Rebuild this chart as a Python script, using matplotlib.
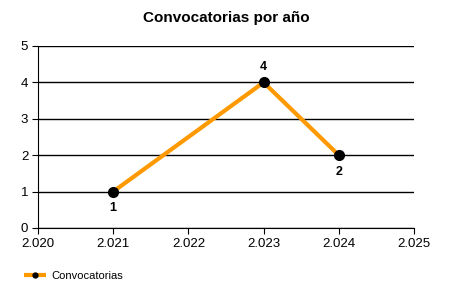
import matplotlib
matplotlib.use("Agg")
import matplotlib.pyplot as plt
from matplotlib.ticker import FuncFormatter, MultipleLocator

plt.rcParams['font.family'] = ['Liberation Sans', 'DejaVu Sans']

years = [2021, 2023, 2024]
values = [1, 4, 2]
label_pos = ['below', 'above', 'below']
series_name = "Convocatorias"
title = "Convocatorias por año"

fig = plt.figure(figsize=(4.5, 3), dpi=100)
ax = fig.add_axes([38/450, 1-228/300, (414-38)/450, (228-46)/300])

ax.plot(years, values, color='#FF9900', lw=3, marker='o', markersize=7,
        markerfacecolor='black', markeredgecolor='black', label=series_name, zorder=3,
        solid_capstyle='butt')
for x, y, p in zip(years, values, label_pos):
    off = -12 if p == 'below' else 11
    ax.annotate(str(y), (x, y), xytext=(0, off), textcoords='offset points',
                ha='center', va='center', fontsize=9, fontweight='bold')

ax.set_xlim(2020, 2025)
ax.set_ylim(0, 5)
ax.xaxis.set_major_locator(MultipleLocator(1))
ax.yaxis.set_major_locator(MultipleLocator(1))
ax.xaxis.set_major_formatter(FuncFormatter(lambda v, p: f"{int(v)//1000}.{int(v)%1000:03d}"))
ax.grid(axis='y', color='black', lw=1)
ax.set_axisbelow(True)
for s in ['top', 'right']:
    ax.spines[s].set_visible(False)
for s in ['left', 'bottom']:
    ax.spines[s].set_color('black')
ax.tick_params(axis='both', labelsize=9.5, length=4, color='black', pad=3)
ax.set_title(title, fontsize=11, fontweight='bold', pad=17)

leg = fig.legend(loc='lower left', bbox_to_anchor=(0.03, 0.03), frameon=False,
                 fontsize=8, handlelength=2, handletextpad=0.5, markerscale=0.5)
fig.savefig("out.png", dpi=100)
